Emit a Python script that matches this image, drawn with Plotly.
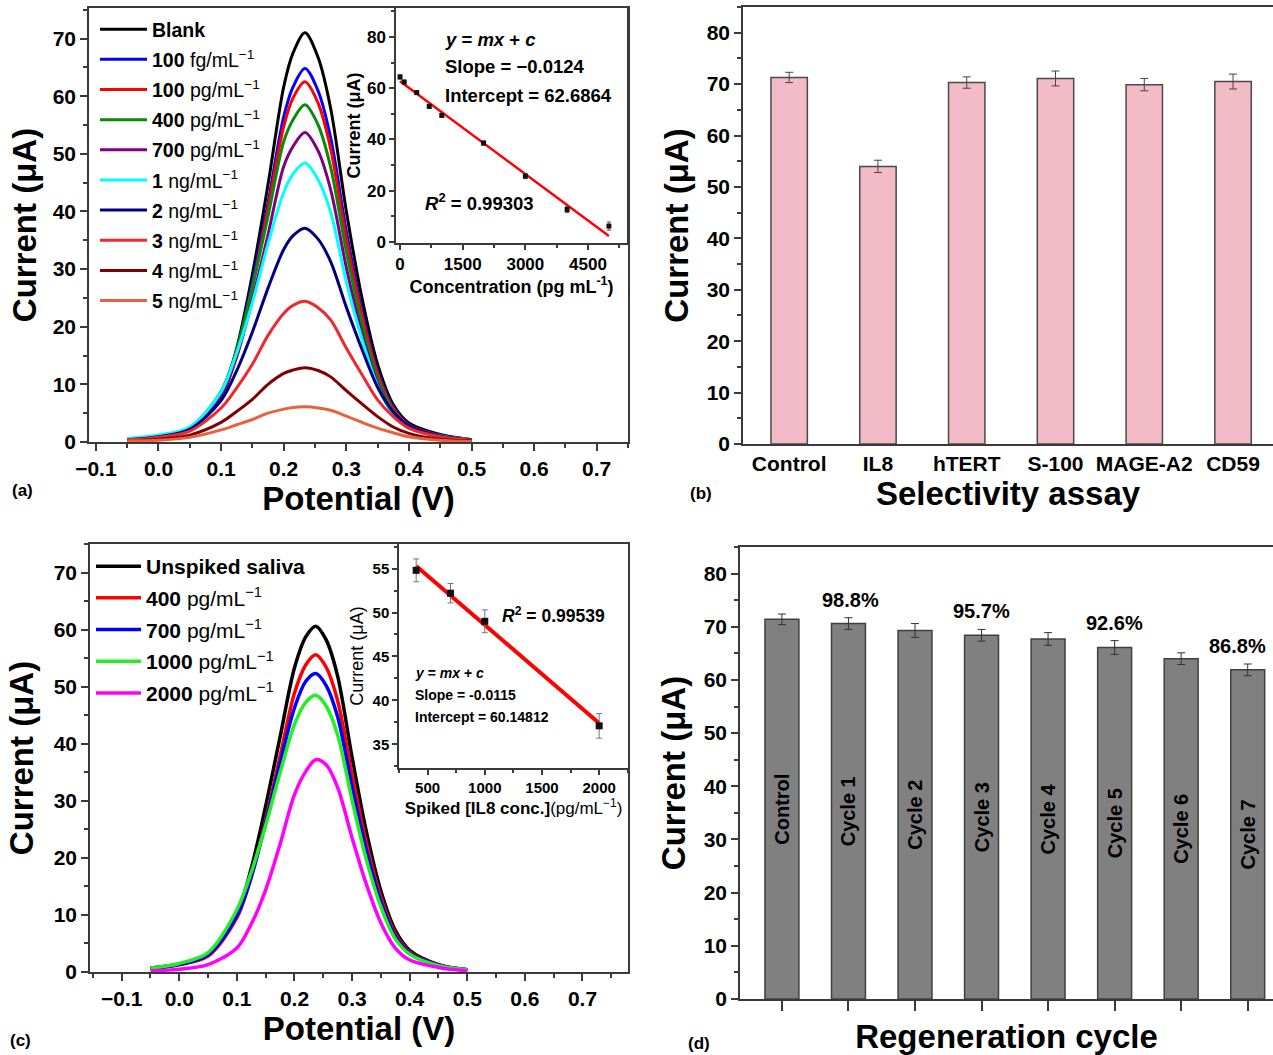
import plotly.graph_objects as go

FONT = "Liberation Sans, Arial, sans-serif"
W, H = 1273, 1055

# ---------------- data: panel (a) ----------------
pot_a = [-0.05, 0.0, 0.05, 0.1, 0.125, 0.15, 0.175, 0.2, 0.215, 0.234, 0.255, 0.275,
         0.3, 0.325, 0.35, 0.375, 0.4, 0.45, 0.5]
a_labels = ["<b>Blank</b>", "<b>100</b> fg/mL<sup>\u22121</sup>", "<b>100</b> pg/mL<sup>\u22121</sup>",
            "<b>400</b> pg/mL<sup>\u22121</sup>", "<b>700</b> pg/mL<sup>\u22121</sup>",
            "<b>1</b> ng/mL<sup>\u22121</sup>", "<b>2</b> ng/mL<sup>\u22121</sup>",
            "<b>3</b> ng/mL<sup>\u22121</sup>", "<b>4</b> ng/mL<sup>\u22121</sup>",
            "<b>5</b> ng/mL<sup>\u22121</sup>"]
a_blank = [0.4, 1.0, 2.4, 8.0, 16.3, 29.1, 44.7, 61.6, 67.5, 71.0, 66.7, 57.9, 40.1, 25.0, 13.5, 6.5, 3.3, 1.3, 0.4]
a_100fg = [0.4, 1.0, 2.3, 7.9, 15.6, 27.9, 41.5, 56.4, 61.6, 64.8, 60.9, 52.8, 36.6, 22.8, 12.3, 6.0, 3.0, 1.2, 0.4]
a_100pg = [0.4, 0.9, 2.3, 7.8, 15.3, 26.9, 40.6, 54.7, 59.7, 62.5, 58.8, 50.9, 35.3, 22.0, 11.9, 5.8, 2.9, 1.1, 0.4]
a_400pg = [0.4, 1.1, 2.5, 8.8, 16.1, 26.9, 39.2, 52.1, 55.9, 58.5, 55.0, 47.7, 33.1, 20.6, 11.1, 5.4, 2.7, 1.1, 0.4]
a_700pg = [0.4, 1.0, 2.3, 8.1, 14.8, 24.7, 36.0, 47.8, 51.3, 53.7, 50.5, 43.8, 30.3, 18.9, 10.2, 4.9, 2.5, 1.0, 0.4]
a_1ng = [0.6, 1.2, 2.6, 8.7, 15.5, 24.2, 34.4, 43.3, 46.5, 48.4, 45.5, 39.9, 27.8, 17.9, 9.7, 4.8, 2.4, 1.0, 0.4]
a_2ng = [0.4, 0.9, 2.2, 7.2, 12.4, 19.1, 26.7, 33.4, 35.8, 37.1, 35.2, 31.3, 23.4, 16.1, 9.5, 5.2, 2.8, 1.0, 0.4]
a_3ng = [0.4, 0.8, 1.9, 5.9, 9.4, 13.5, 18.5, 22.3, 23.7, 24.4, 23.3, 21.2, 16.3, 11.7, 7.3, 4.4, 2.4, 0.9, 0.3]
a_4ng = [0.2, 0.5, 1.2, 3.4, 5.3, 7.4, 10.0, 11.9, 12.5, 12.9, 12.4, 11.3, 8.9, 6.6, 4.4, 2.6, 1.5, 0.5, 0.2]
a_5ng = [0.2, 0.3, 0.8, 2.1, 3.0, 3.9, 5.0, 5.7, 6.0, 6.1, 5.9, 5.5, 4.5, 3.4, 2.4, 1.6, 0.9, 0.3, 0.1]
a_curves = [a_blank, a_100fg, a_100pg, a_400pg, a_700pg, a_1ng, a_2ng, a_3ng, a_4ng, a_5ng]
a_colors = ["#000000", "#0000FF", "#FF0000", "#0A8A0A", "#800080", "#00FFFF", "#000080",
            "#F0282D", "#800000", "#E8603C"]

# inset (a)
a_conc = [0.1, 100, 400, 700, 1000, 2000, 3000, 4000, 5000]
a_curr = [64.4, 62.4, 58.3, 52.9, 49.4, 38.6, 25.7, 12.7, 6.2]
a_err = [0.8, 0.8, 0.8, 0.8, 0.8, 0.8, 1.0, 1.2, 1.6]
a_fit_x = [0, 5000]
a_fit_y = [62.7, 2.3]

# ---------------- data: panel (b) ----------------
b_cats = ["Control", "IL8", "hTERT", "S-100", "MAGE-A2", "CD59"]
b_vals = [71.3, 54.0, 70.3, 71.1, 69.9, 70.5]
b_err = [1.0, 1.2, 1.1, 1.45, 1.2, 1.45]

# ---------------- data: panel (c) ----------------
pot_c = [-0.05, 0.0, 0.05, 0.1, 0.125, 0.15, 0.175, 0.2, 0.22, 0.237, 0.255, 0.275,
         0.3, 0.325, 0.35, 0.375, 0.4, 0.45, 0.5]
c_labels = ["<b>Unspiked saliva</b>", "<b>400</b> pg/mL<sup>\u22121</sup>",
            "<b>700</b> pg/mL<sup>\u22121</sup>", "<b>1000</b> pg/mL<sup>\u22121</sup>",
            "<b>2000</b> pg/mL<sup>\u22121</sup>"]
c_unspiked = [0.7, 1.4, 3.0, 10.3, 18.2, 29.1, 41.2, 53.3, 58.8, 60.6, 58.2, 51.8, 37.6, 24.5, 14.2, 7.3, 3.8, 1.3, 0.4]
c_400 = [0.6, 1.3, 2.8, 9.5, 16.7, 26.7, 37.8, 48.9, 53.9, 55.6, 53.4, 47.5, 34.5, 22.5, 13.1, 6.7, 3.5, 1.2, 0.4]
c_700 = [0.6, 1.3, 3.0, 9.9, 16.7, 26.2, 36.6, 46.3, 51.0, 52.3, 50.2, 44.7, 32.4, 21.2, 12.3, 6.3, 3.3, 1.2, 0.4]
c_1000 = [0.7, 1.5, 3.4, 10.9, 17.5, 25.7, 34.9, 43.4, 47.3, 48.5, 46.6, 41.5, 30.1, 19.6, 11.4, 5.8, 3.1, 1.1, 0.4]
c_2000 = [0.2, 0.5, 1.3, 4.2, 8.4, 14.4, 22.4, 31.1, 35.2, 37.2, 36.3, 32.3, 23.5, 15.3, 8.6, 4.2, 2.1, 0.8, 0.2]
c_curves = [c_unspiked, c_400, c_700, c_1000, c_2000]
c_colors = ["#000000", "#FF0000", "#0000FF", "#22EE22", "#FF00FF"]

# inset (c)
c_conc = [400, 700, 1000, 2000]
c_curr = [54.8, 52.2, 49.0, 37.1]
c_err = [1.3, 1.1, 1.3, 1.4]
c_fit_x = [400, 2000]
c_fit_y = [55.3, 37.4]

# ---------------- data: panel (d) ----------------
d_cats = ["Control", "Cycle 1", "Cycle 2", "Cycle 3", "Cycle 4", "Cycle 5", "Cycle 6", "Cycle 7"]
d_vals = [71.4, 70.6, 69.3, 68.4, 67.7, 66.1, 64.0, 61.9]
d_err = [1.0, 1.1, 1.3, 1.1, 1.2, 1.3, 1.1, 1.1]
d_pct_idx = [1, 3, 5, 7]
d_pct_text = ["98.8%", "95.7%", "92.6%", "86.8%"]
d_pct_xshift = [2, 0, 0, -10]


def dx(p):
    return p / W


def dy(p):
    return 1 - p / H


AX = "#3a3a3a"


def axis(**kw):
    base = dict(showline=True, linecolor=AX, linewidth=1.5, mirror=True, ticks="outside",
                ticklen=7, tickwidth=1.5, tickcolor=AX, showgrid=False, zeroline=False,
                automargin=False,
                tickfont=dict(family=FONT, size=21, color="black", weight="bold"))
    base.update(kw)
    return base


def title(text, size=33, standoff=8, weight="bold"):
    return dict(text=text, font=dict(family=FONT, size=size, color="black", weight=weight),
                standoff=standoff)


fig = go.Figure()

# panel (a) curves
for lab, vals, col in zip(a_labels, a_curves, a_colors):
    fig.add_trace(go.Scatter(x=pot_a, y=vals, mode="lines", name=lab, legend="legend",
                             legendgroup=lab,
                             line=dict(color=col, width=3, shape="spline", smoothing=0.9),
                             xaxis="x", yaxis="y"))

# inset (a)
fig.add_trace(go.Scatter(x=a_fit_x, y=a_fit_y, mode="lines", showlegend=False,
                         line=dict(color="#FF0000", width=2.5), xaxis="x2", yaxis="y2"))
fig.add_trace(go.Scatter(x=a_conc, y=a_curr, mode="markers", showlegend=False,
                         marker=dict(symbol="square", size=5, color="#111"),
                         error_y=dict(type="data", array=a_err, color="#555", thickness=1, width=2),
                         xaxis="x2", yaxis="y2"))

# panel (b)
fig.add_trace(go.Bar(x=b_cats, y=b_vals, width=0.41, showlegend=False,
                     marker=dict(color="#F3BBC6", line=dict(color="#4a4a4a", width=1.5)),
                     error_y=dict(type="data", array=b_err, color="#444", thickness=1, width=4),
                     xaxis="x3", yaxis="y3"))

# panel (c) curves
for lab, vals, col in zip(c_labels, c_curves, c_colors):
    fig.add_trace(go.Scatter(x=pot_c, y=vals, mode="lines", name=lab, legend="legend2",
                             legendgroup=lab,
                             line=dict(color=col, width=3.5, shape="spline", smoothing=0.9),
                             xaxis="x4", yaxis="y4"))

# inset (c)
fig.add_trace(go.Scatter(x=c_fit_x, y=c_fit_y, mode="lines", showlegend=False,
                         line=dict(color="#FF0000", width=4), xaxis="x5", yaxis="y5"))
fig.add_trace(go.Scatter(x=c_conc, y=c_curr, mode="markers", showlegend=False,
                         marker=dict(symbol="square", size=7, color="#111"),
                         error_y=dict(type="data", array=c_err, color="#777", thickness=1, width=3),
                         xaxis="x5", yaxis="y5"))

# panel (d)
fig.add_trace(go.Bar(x=d_cats, y=d_vals, width=0.51, showlegend=False, text=d_cats,
                     textposition="inside", insidetextanchor="middle", textangle=-90,
                     constraintext="none",
                     textfont=dict(family=FONT, size=20, color="black", weight="bold"),
                     marker=dict(color="#808080", line=dict(color="#404040", width=1.5)),
                     error_y=dict(type="data", array=d_err, color="#333", thickness=1, width=4),
                     xaxis="x6", yaxis="y6"))

minor_a = dict(ticks="outside", ticklen=4, tickwidth=1.5, tickcolor=AX)

layout = dict(
    width=W, height=H, margin=dict(l=0, r=0, t=0, b=0), autosize=False,
    paper_bgcolor="white", plot_bgcolor="white",
    font=dict(family=FONT, color="black"),
    # (a)
    xaxis=axis(domain=[dx(89), dx(628)], anchor="y", range=[-0.111, 0.75], dtick=0.1, tick0=0,
               tickformat=".1f", minor=dict(dtick=0.05, **minor_a),
               title=title("Potential (V)", standoff=4)),
    yaxis=axis(domain=[dy(442), dy(8)], anchor="x", range=[0, 75.3], dtick=10,
               minor=dict(dtick=5, **minor_a), title=title("Current (\u03bcA)", standoff=6)),
    # (a) inset
    xaxis2=axis(domain=[dx(396), dx(627)], anchor="y2", range=[-96, 5433],
                tickvals=[0, 1500, 3000, 4500], ticklen=5,
                minor=dict(dtick=750, ticks="outside", ticklen=3, tickcolor=AX),
                tickfont=dict(family=FONT, size=17, color="black", weight="bold"),
                title=title("Concentration (pg mL<sup>-1</sup>)", size=18, standoff=3)),
    yaxis2=axis(domain=[dy(243), dy(8)], anchor="x2", range=[-0.4, 91.3], dtick=20, ticklen=5,
                minor=dict(dtick=10, ticks="outside", ticklen=3, tickcolor=AX),
                tickfont=dict(family=FONT, size=17, color="black", weight="bold"),
                title=title("Current (\u03bcA)", size=18, standoff=2)),
    # (b)
    xaxis3=axis(domain=[dx(743), 1.0], anchor="y3", range=[-0.52, 5.45], ticks="",
                title=title("Selectivity assay", standoff=4)),
    yaxis3=axis(domain=[dy(444), dy(7)], anchor="x3", range=[0, 85], dtick=10,
                minor=dict(dtick=5, **minor_a), title=title("Current (\u03bcA)", standoff=8)),
    # (c)
    xaxis4=axis(domain=[dx(90), dx(628)], anchor="y4", range=[-0.155, 0.779], dtick=0.1, tick0=0,
                tickformat=".1f", minor=dict(dtick=0.05, **minor_a),
                title=title("Potential (V)", standoff=4)),
    yaxis4=axis(domain=[dy(972), dy(544)], anchor="x4", range=[0, 75], dtick=10,
                minor=dict(dtick=5, **minor_a), title=title("Current (\u03bcA)", standoff=10)),
    # (c) inset
    xaxis5=axis(domain=[dx(399), dx(628)], anchor="y5", range=[250, 2252], dtick=500, tick0=0,
                ticklen=5, minor=dict(dtick=250, ticks="outside", ticklen=3, tickcolor=AX),
                tickfont=dict(family=FONT, size=15, color="black", weight="bold"),
                title=title("<b>Spiked [IL8 conc.]</b>(pg/mL<sup>\u22121</sup>)", size=17,
                            standoff=4, weight="normal")),
    yaxis5=axis(domain=[dy(768), dy(544)], anchor="x5", range=[32.3, 57.8], dtick=5, ticklen=5,
                minor=dict(dtick=2.5, ticks="outside", ticklen=3, tickcolor=AX),
                tickfont=dict(family=FONT, size=15, color="black", weight="bold"),
                title=title("Current (\u03bcA)", size=18, standoff=4, weight="normal")),
    # (d)
    xaxis6=axis(domain=[dx(740), 1.0], anchor="y6", range=[-0.63, 7.38], ticklen=10,
                showticklabels=False, title=title("Regeneration cycle", standoff=16)),
    yaxis6=axis(domain=[dy(999), dy(547)], anchor="x6", range=[0, 85], dtick=10,
                minor=dict(dtick=5, **minor_a), title=title("Current (\u03bcA)", standoff=8)),
    legend=dict(x=dx(95), y=dy(10), xanchor="left", yanchor="top", bgcolor="rgba(0,0,0,0)",
                font=dict(family=FONT, size=19.5, color="black"), traceorder="grouped",
                tracegroupgap=1.8, itemwidth=47),
    legend2=dict(x=dx(91), y=dy(546), xanchor="left", yanchor="top", bgcolor="rgba(0,0,0,0)",
                 font=dict(family=FONT, size=21, color="black"), traceorder="grouped",
                 tracegroupgap=1.4, itemwidth=45),
)
fig.update_layout(**layout)

ann = []


def text(x, y, s, size, xanchor="left", weight="bold"):
    ann.append(dict(x=dx(x), y=dy(y), xref="paper", yref="paper", text=s, showarrow=False,
                    xanchor=xanchor, yanchor="middle",
                    font=dict(family=FONT, size=size, color="black", weight=weight)))


# inset (a) texts
text(443, 39, "<i>y</i> = <i>mx</i> + <i>c</i>", 18.5)
text(443, 67, "Slope = \u22120.0124", 18.5)
text(443, 95, "Intercept = 62.6864", 18.5)
text(423, 202, "<i>R</i><sup>2</sup> = 0.99303", 18.5)
# inset (c) texts
text(500, 615, "<i>R</i><sup>2</sup> = 0.99539", 17.5)
text(413, 673, "<i>y</i> = <i>mx</i> + <i>c</i>", 14)
text(413, 695, "Slope = -0.0115", 14)
text(413, 717, "Intercept = 60.14812", 14)
# panel labels
text(10, 490, "(a)", 17)
text(688, 493, "(b)", 17)
text(8, 1040, "(c)", 17)
text(686, 1043, "(d)", 17)

# percentage labels in (d)
for i, s, xs in zip(d_pct_idx, d_pct_text, d_pct_xshift):
    ann.append(dict(x=d_cats[i], y=d_vals[i] + d_err[i], xref="x6", yref="y6", text=s,
                    showarrow=False, yanchor="bottom", yshift=5, xshift=xs,
                    font=dict(family=FONT, size=20, color="black", weight="bold")))

fig.update_layout(annotations=ann)
fig.write_html("out.html", config={"displayModeBar": False},
               post_script="document.body.style.margin='0px';document.body.style.overflow='hidden';")
